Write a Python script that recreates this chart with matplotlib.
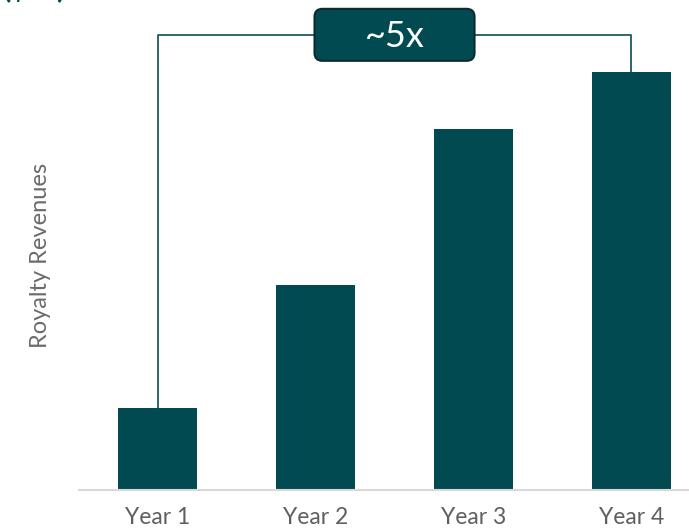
import matplotlib.pyplot as plt
from matplotlib.patches import FancyBboxPatch

years = ["Year 1", "Year 2", "Year 3", "Year 4"]
revenues = [1.0, 2.5, 4.4, 5.1]
growth_label = "~5x"

teal = "#024a52"
plt.rcParams['font.family'] = ['Lato', 'DejaVu Sans']

fig = plt.figure(figsize=(6.89, 5.28), dpi=100)
ax = fig.add_axes([0.1147, 0.072, 0.8853, 0.89])

x = list(range(len(years)))
ax.bar(x, revenues, width=0.5, color=teal, zorder=2)

ax.set_xlim(-0.497, 3.364)
ax.set_ylim(0, 5.73)

# bracket from first bar to last bar
bracket_y = 5.55
ax.plot([x[0], x[0], x[-1], x[-1]],
        [revenues[0], bracket_y, bracket_y, revenues[-1]],
        color="#1d5a60", linewidth=1.3, zorder=1, clip_on=False)

# rounded label box in the middle of the bracket
cx = (x[0] + x[-1]) / 2
bw, bh = 1.013, 0.634
box = FancyBboxPatch((cx - bw / 2, bracket_y - bh / 2), bw, bh,
                     boxstyle="round,pad=0,rounding_size=0.05",
                     mutation_aspect=158 / 82,
                     facecolor=teal, edgecolor="#0b2b2e", linewidth=1.5,
                     zorder=3, clip_on=False)
ax.add_patch(box)
ax.text(cx, bracket_y - 0.02, growth_label, color="white", fontsize=26,
        ha="center", va="center", zorder=4)

for side in ["top", "right", "left"]:
    ax.spines[side].set_visible(False)
ax.spines["bottom"].set_color("#d9d9d9")
ax.spines["bottom"].set_linewidth(1.5)

ax.set_xticks(x)
ax.set_xticklabels(years, fontsize=16.5, color="#5f5f5f")
ax.tick_params(axis="x", length=0, pad=12)
ax.set_yticks([])
ax.set_ylabel("Royalty Revenues", fontsize=17, color="#6b6b6b", labelpad=20)

# units heading sitting mostly above the top edge
fig.text(0.004, 1.006, "($M)", fontsize=22, fontweight="bold", color=teal,
         ha="left", va="baseline")

fig.savefig("out.png", dpi=100)
